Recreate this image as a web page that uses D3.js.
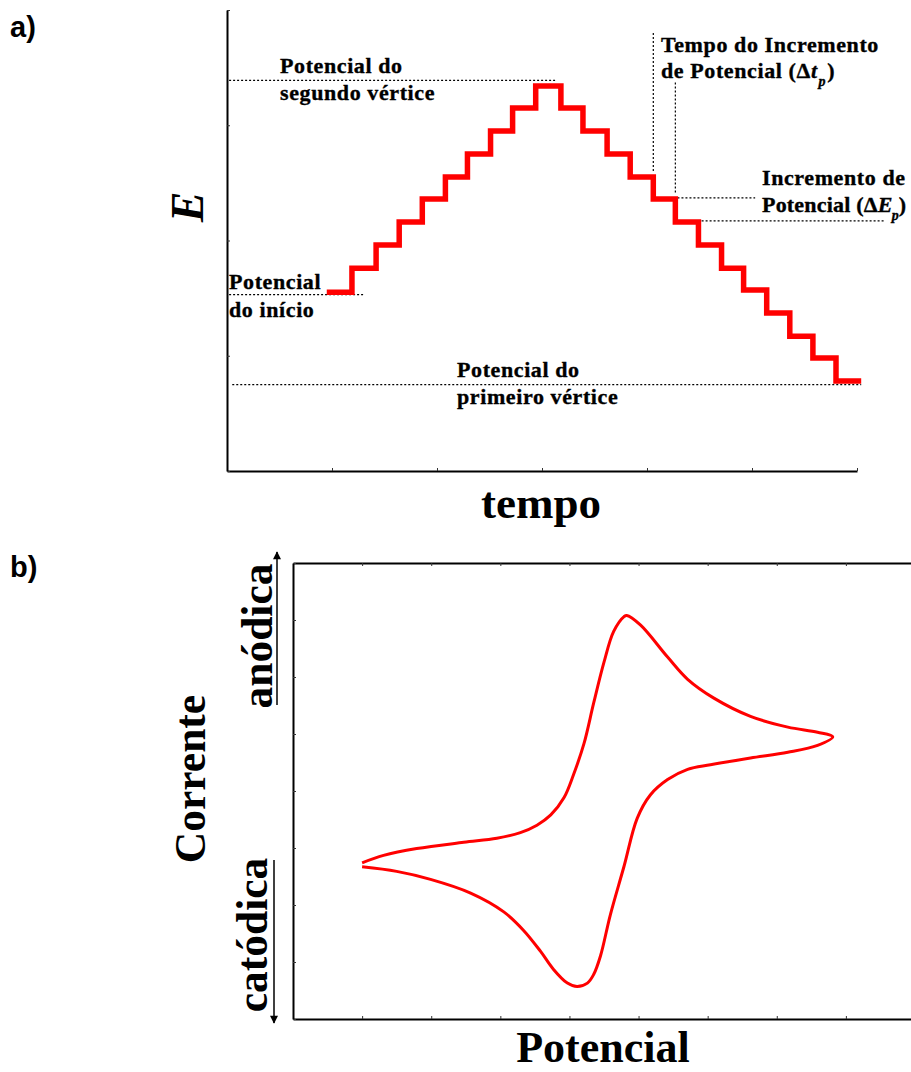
<!DOCTYPE html>
<html>
<head>
<meta charset="utf-8">
<script src="https://cdn.jsdelivr.net/npm/d3@7"></script>
<style>
  body { margin: 0; background: #fff; }
  svg { display: block; }
  .note { font-family: "Liberation Serif", serif; font-weight: bold; font-size: 22px; letter-spacing: 0.6px;
          stroke: #000; stroke-width: 0.35px; }
  .big { font-family: "Liberation Serif", serif; font-weight: bold; }
  .panel { font-family: "Liberation Sans", Arial, sans-serif; font-weight: bold; font-size: 29px; }
</style>
</head>
<body>
<div id="chart"></div>
<script>
// ---- panel a: staircase potential waveform ----
// step edges (time, arbitrary units) and the potential held after each edge
var stepTime = [0.95, 1.19, 1.42, 1.64, 1.86, 2.08, 2.29, 2.51, 2.72, 2.94, 3.18, 3.39, 3.62,
                3.84, 4.06, 4.27, 4.49, 4.71, 4.92, 5.14, 5.36, 5.58, 5.80, 6.04];
var stepE = [1.55, 1.76, 1.96, 2.16, 2.36, 2.55, 2.75, 2.95, 3.15, 3.34,
             3.15, 2.95, 2.75, 2.55, 2.36, 2.16, 1.96, 1.76, 1.57, 1.37, 1.17, 0.98, 0.78];

// dotted guide lines: [t0, t1, E] horizontal and [t, E0, E1] vertical
var guideH = [[0.02, 3.13, 3.39], [0.02, 1.30, 1.53], [0.05, 6.04, 0.75],
              [4.29, 5.03, 2.37], [4.52, 6.27, 2.17]];
var guideV = [[4.06, 3.80, 2.59], [4.27, 3.37, 2.41]];

// ---- panel b: cyclic voltammogram ----
var cvE = [1.00, 1.31, 1.79, 2.47, 2.95, 3.29, 3.53, 3.73, 3.92, 4.06, 4.21, 4.35, 4.50, 4.64,
           4.79, 4.83, 5.03, 5.42, 5.71, 6.09, 6.62, 7.16, 7.59, 7.81,
           7.59, 7.16, 6.62, 6.04, 5.71, 5.42, 5.17, 4.98, 4.79, 4.59, 4.45, 4.35, 4.26, 4.11,
           3.97, 3.77, 3.58, 3.34, 3.05, 2.57, 1.99, 1.50, 1.00];
var cvI = [-1.26, -1.13, -1.01, -0.90, -0.83, -0.73, -0.60, -0.42, -0.12, 0.29, 0.83, 1.54, 2.26, 2.80,
           3.06, 3.08, 2.91, 2.35, 1.96, 1.63, 1.31, 1.12, 1.03, 0.95,
           0.80, 0.68, 0.58, 0.46, 0.38, 0.20, -0.07, -0.48, -1.32, -2.18, -2.89, -3.22, -3.37, -3.43,
           -3.37, -3.13, -2.81, -2.45, -2.12, -1.79, -1.55, -1.41, -1.33];

var W = 911, H = 1072;
var svg = d3.select("#chart").append("svg")
  .attr("width", W).attr("height", H);

var defs = svg.append("defs");
defs.append("marker")
  .attr("id", "arrow")
  .attr("viewBox", "0 0 10 10")
  .attr("refX", 9).attr("refY", 5)
  .attr("markerWidth", 11).attr("markerHeight", 8)
  .attr("markerUnits", "userSpaceOnUse")
  .attr("orient", "auto")
  .append("path").attr("d", "M0,0 L10,5 L0,10 Z").attr("fill", "#000");

function styleAxis(g) {
  g.select(".domain").attr("stroke", "#000").attr("stroke-width", 2);
  g.selectAll(".tick line").attr("stroke", "#333").attr("stroke-width", 1);
}

// ===== panel a =====
var xA = d3.scaleLinear().domain([0, 6]).range([227, 857]);
var yA = d3.scaleLinear().domain([0, 4]).range([471, 10]);

var ga = svg.append("g");
ga.append("g").attr("transform", "translate(0,471)")
  .call(d3.axisBottom(xA).ticks(6).tickSizeInner(-3).tickSizeOuter(0).tickFormat(""))
  .call(styleAxis);
ga.append("g").attr("transform", "translate(227,0)")
  .call(d3.axisLeft(yA).ticks(4).tickSizeInner(-3).tickSizeOuter(0).tickFormat(""))
  .call(styleAxis);

guideH.forEach(function(d) {
  ga.append("line")
    .attr("x1", xA(d[0])).attr("x2", xA(d[1]))
    .attr("y1", yA(d[2])).attr("y2", yA(d[2]))
    .attr("stroke", "#000").attr("stroke-width", 1.2).attr("stroke-dasharray", "2,2");
});
guideV.forEach(function(d) {
  ga.append("line")
    .attr("x1", xA(d[0])).attr("x2", xA(d[0]))
    .attr("y1", yA(d[1])).attr("y2", yA(d[2]))
    .attr("stroke", "#000").attr("stroke-width", 1.2).attr("stroke-dasharray", "2,2");
});

var stairs = stepTime.map(function(t, i) {
  return [t, i < stepE.length ? stepE[i] : stepE[stepE.length - 1]];
});
ga.append("path")
  .datum(stairs)
  .attr("fill", "none")
  .attr("stroke", "#ff0000")
  .attr("stroke-width", 5.5)
  .attr("stroke-linejoin", "miter")
  .attr("d", d3.line().x(function(d) { return xA(d[0]); }).y(function(d) { return yA(d[1]); })
    .curve(d3.curveStepAfter));

function note(x, y, txt) {
  return ga.append("text").attr("class", "note").attr("x", x).attr("y", y).text(txt);
}
note(280, 73, "Potencial do");
note(280, 100, "segundo vértice");
note(229, 289, "Potencial");
note(229, 317, "do início");
note(457, 377, "Potencial do");
note(457, 404, "primeiro vértice");
note(661, 52, "Tempo do Incremento");
note(762, 185, "Incremento de");

var t1 = ga.append("text").attr("class", "note").attr("x", 661).attr("y", 78);
t1.append("tspan").text("de Potencial (Δ");
t1.append("tspan").attr("font-style", "italic").text("t");
t1.append("tspan").attr("font-style", "italic").attr("font-size", 14).attr("dy", 8).attr("dx", 1).text("p");
t1.append("tspan").attr("dy", -8).attr("dx", 1).text(")");

var t2 = ga.append("text").attr("class", "note").attr("x", 762).attr("y", 212)
  .style("letter-spacing", "0.2px");
t2.append("tspan").text("Potencial (Δ");
t2.append("tspan").attr("font-style", "italic").text("E");
t2.append("tspan").attr("font-style", "italic").attr("font-size", 14).attr("dy", 8).attr("dx", -1).text("p");
t2.append("tspan").attr("dy", -8).attr("dx", 0).text(")");

ga.append("text").attr("class", "big")
  .attr("transform", "translate(203,207) rotate(-90)")
  .attr("text-anchor", "middle")
  .attr("font-size", 46).attr("font-style", "italic")
  .text("E");
ga.append("text").attr("class", "big")
  .attr("x", 541).attr("y", 518)
  .attr("text-anchor", "middle").attr("font-size", 45)
  .text("tempo");
svg.append("text").attr("class", "panel").attr("x", 10).attr("y", 37).text("a)");

// ===== panel b =====
var xB = d3.scaleLinear().domain([0, 9]).range([293, 915]);
var yB = d3.scaleLinear().domain([-4, 4]).range([1019, 563]);

var gb = svg.append("g");
gb.append("g").attr("transform", "translate(0,1019)")
  .call(d3.axisBottom(xB).ticks(9).tickSizeInner(-3).tickSizeOuter(0).tickFormat(""))
  .call(styleAxis);
gb.append("g").attr("transform", "translate(0,563)")
  .call(d3.axisTop(xB).ticks(9).tickSizeInner(-3).tickSizeOuter(0).tickFormat(""))
  .call(styleAxis);
gb.append("g").attr("transform", "translate(293,0)")
  .call(d3.axisLeft(yB).ticks(8).tickSizeInner(-3).tickSizeOuter(0).tickFormat(""))
  .call(styleAxis);

var cv = cvE.map(function(e, i) { return [e, cvI[i]]; });
gb.append("path")
  .datum(cv)
  .attr("fill", "none")
  .attr("stroke", "#ff0000")
  .attr("stroke-width", 3)
  .attr("d", d3.line().x(function(d) { return xB(d[0]); }).y(function(d) { return yB(d[1]); })
    .curve(d3.curveCatmullRom.alpha(0.5)));

// direction arrows beside the current label
gb.append("line")
  .attr("x1", 277).attr("x2", 277).attr("y1", 705).attr("y2", 552)
  .attr("stroke", "#000").attr("stroke-width", 1.5).attr("marker-end", "url(#arrow)");
gb.append("line")
  .attr("x1", 274).attr("x2", 274).attr("y1", 860).attr("y2", 1023)
  .attr("stroke", "#000").attr("stroke-width", 1.5).attr("marker-end", "url(#arrow)");

function rotLabel(x, y, txt, size) {
  gb.append("text").attr("class", "big")
    .attr("transform", "translate(" + x + "," + y + ") rotate(-90)")
    .attr("text-anchor", "middle").attr("font-size", size)
    .text(txt);
}
rotLabel(272, 636, "anódica", 43.5);
rotLabel(267, 935, "catódica", 43.5);
rotLabel(205, 779, "Corrente", 43.5);

gb.append("text").attr("class", "big")
  .attr("x", 603).attr("y", 1062)
  .attr("text-anchor", "middle").attr("font-size", 44)
  .text("Potencial");
svg.append("text").attr("class", "panel").attr("x", 10).attr("y", 577).text("b)");
</script>
</body>
</html>
